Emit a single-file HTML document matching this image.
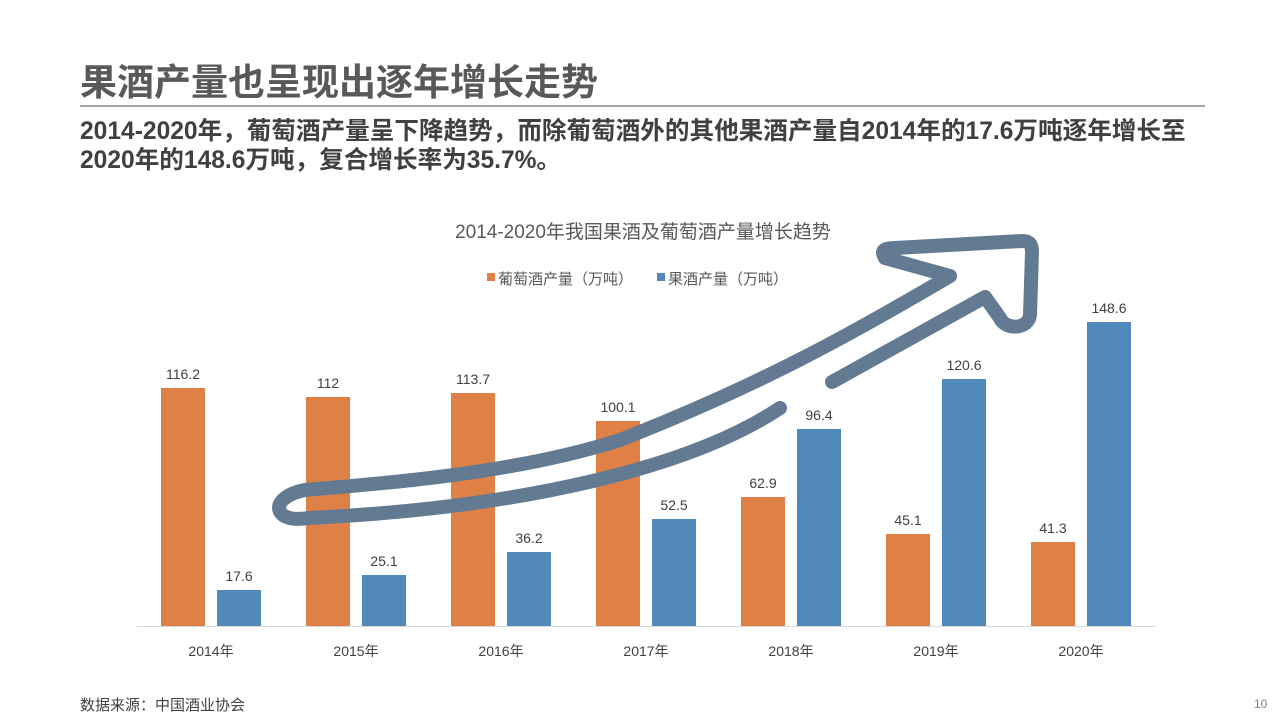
<!DOCTYPE html>
<html><head><meta charset="utf-8"><style>
body{margin:0;width:1280px;height:720px;background:#fff;overflow:hidden;font-family:"Liberation Sans","Noto Sans CJK SC",sans-serif;position:relative}
.h{position:absolute;left:80px;top:60px;font-size:37px;font-weight:bold;color:#595959;line-height:46px}
.line{position:absolute;left:80px;top:105px;width:1125px;height:2px;background:#a6a6a6}
.sub{position:absolute;left:80px;top:117px;font-size:24.6px;font-weight:bold;color:#404040;line-height:29px;white-space:nowrap}
.foot{position:absolute;left:80px;top:694px;font-size:15px;color:#404040}
.pg{position:absolute;left:1254px;top:697px;font-size:12px;color:#808080}
</style></head><body>
<div class="h">果酒产量也呈现出逐年增长走势</div>
<div class="line"></div>
<div class="sub">2014-2020年，葡萄酒产量呈下降趋势，而除葡萄酒外的其他果酒产量自2014年的17.6万吨逐年增长至<br>2020年的148.6万吨，复合增长率为35.7%。</div>
<svg width="1280" height="720" style="position:absolute;left:0;top:0" font-family="Liberation Sans, Noto Sans CJK SC, sans-serif">
<text x="643" y="238" font-size="19" fill="#595959" text-anchor="middle">2014-2020年我国果酒及葡萄酒产量增长趋势</text>
<rect x="487" y="273" width="8" height="8" fill="#df8147"/>
<text x="498" y="284" font-size="15" fill="#595959">葡萄酒产量（万吨）</text>
<rect x="657" y="273" width="8" height="8" fill="#5289bb"/>
<text x="668" y="284" font-size="15" fill="#595959">果酒产量（万吨）</text>
<line x1="137" y1="626.5" x2="1155" y2="626.5" stroke="#d9d9d9" stroke-width="1"/>
<g font-size="14" fill="#404040" text-anchor="middle">
<rect x="161" y="388" width="44" height="238" fill="#df8147"/><text x="183" y="379">116.2</text>
<rect x="217" y="590" width="44" height="36" fill="#5289bb"/><text x="239" y="581">17.6</text>
<rect x="306" y="397" width="44" height="229" fill="#df8147"/><text x="328" y="388">112</text>
<rect x="362" y="575" width="44" height="51" fill="#5289bb"/><text x="384" y="566">25.1</text>
<rect x="451" y="393" width="44" height="233" fill="#df8147"/><text x="473" y="384">113.7</text>
<rect x="507" y="552" width="44" height="74" fill="#5289bb"/><text x="529" y="543">36.2</text>
<rect x="596" y="421" width="44" height="205" fill="#df8147"/><text x="618" y="412">100.1</text>
<rect x="652" y="519" width="44" height="107" fill="#5289bb"/><text x="674" y="510">52.5</text>
<rect x="741" y="497" width="44" height="129" fill="#df8147"/><text x="763" y="488">62.9</text>
<rect x="797" y="429" width="44" height="197" fill="#5289bb"/><text x="819" y="420">96.4</text>
<rect x="886" y="534" width="44" height="92" fill="#df8147"/><text x="908" y="525">45.1</text>
<rect x="942" y="379" width="44" height="247" fill="#5289bb"/><text x="964" y="370">120.6</text>
<rect x="1031" y="542" width="44" height="84" fill="#df8147"/><text x="1053" y="533">41.3</text>
<rect x="1087" y="322" width="44" height="304" fill="#5289bb"/><text x="1109" y="313">148.6</text>
</g>
<g font-size="14" fill="#404040" text-anchor="middle">
<text x="211" y="656">2014年</text><text x="356" y="656">2015年</text><text x="501" y="656">2016年</text><text x="646" y="656">2017年</text><text x="791" y="656">2018年</text><text x="936" y="656">2019年</text><text x="1081" y="656">2020年</text>
</g>
<g fill="none" stroke="#637b92" stroke-width="14" stroke-linecap="round" stroke-linejoin="round">
<path d="M 950 276 C 850 335 760 385 620 440 C 520 472 400 482 305 490 C 268 497 272 524 308 518 C 520 508 690 468 780 408"/>
<path d="M 950 276 L 885 258 C 880 250 885 248 895 248 L 1022 241 C 1030 241 1032 245 1032 252 L 1030 315 C 1028 330 1005 330 1000 318 L 985 297 L 832 382"/>
</g>
</svg>
<div class="foot">数据来源：中国酒业协会</div>
<div class="pg">10</div>
</body></html>
